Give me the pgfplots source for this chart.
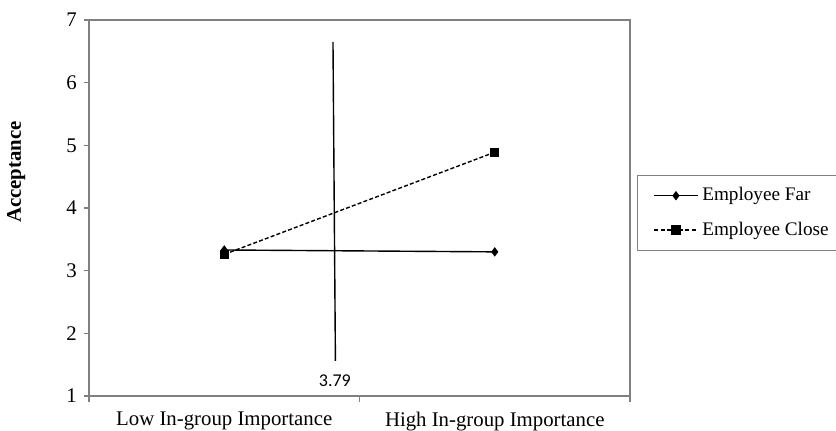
\documentclass[border=0pt]{standalone}
\usepackage{fontspec}
\setmainfont{Liberation Serif}
\newfontfamily\calibri{Carlito}
\usepackage{pgfplots}
\pgfplotsset{compat=1.18}
\begin{document}
\fontsize{10.4}{12}\selectfont
\begin{tikzpicture}
\path[use as bounding box] (-44.5pt,-17.5pt) rectangle (373.5pt,198pt);
\begin{axis}[
  scale only axis, width=270.5pt, height=188pt,
  at={(0,0)}, anchor=south west,
  xmin=0, xmax=2, ymin=1, ymax=7,
  xtick={0.5,1.5},
  xticklabels={Low In-group Importance, High In-group Importance},
  major x tick style={draw=none},
  minor xtick={0,1,2},
  ytick={1,2,3,4,5,6,7},
  tick pos=left,
  tick align=outside,
  major tick length=2.5pt, minor tick length=3pt,
  axis line style={draw=gray, line width=0.6pt},
  tick style={draw=gray, line width=0.6pt},
  every minor tick/.style={draw=gray, line width=0.6pt},
  clip=false,
  /pgf/number format/assume math mode=true,
  ticklabel style={font=\fontsize{10.4}{12}\selectfont},
  xticklabel style={yshift=-2pt},
  ylabel={\textbf{Acceptance}},
  ylabel style={at={(axis description cs:-0.104,0.596)}, anchor=south, font=\fontsize{10.4}{12}\selectfont},
  legend style={at={(1.013,0.588)}, anchor=north west, draw=gray, line width=0.6pt,
    font=\fontsize{9.6}{11}\selectfont, row sep=5pt, inner xsep=3pt, inner ysep=4pt,
    cells={anchor=west}},
  legend image code/.code={
    \path (-5pt,0pt);
    \draw[mark repeat=2,mark phase=2,#1] plot coordinates {(0cm,0cm)(0.38cm,0cm)(0.76cm,0cm)};
  },
]
\addplot[black, line width=0.7pt, mark=diamond*, mark size=1.8pt]
  coordinates {(0.5,3.33) (1.5,3.30)};
\addlegendentry{Employee Far}
\addplot[black, line width=0.7pt, dash pattern=on 2pt off 1.1pt, mark=square*, mark size=2pt, mark options={solid}]
  coordinates {(0.5,3.26) (1.5,4.89)};
\addlegendentry{Employee Close}
\addplot[black, line width=0.7pt, forget plot]
  coordinates {(0.902,6.65) (0.911,1.56)};
\node[font=\calibri\fontsize{9}{10}\selectfont] at (axis cs:0.909,1.245) {3.79};
\end{axis}
\end{tikzpicture}
\end{document}
